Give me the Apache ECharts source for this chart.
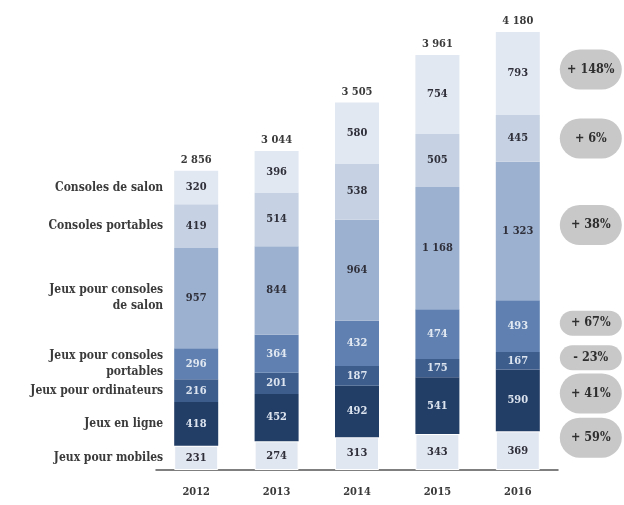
<!DOCTYPE html>
<html>
<head>
<meta charset="utf-8">
<script src="https://cdn.jsdelivr.net/npm/echarts@6/dist/echarts.min.js"></script>
<style>
  html, body { margin: 0; padding: 0; background: #ffffff; }
  #chart { width: 624px; height: 505px; }
</style>
</head>
<body>
<div id="chart"></div>
<script>
// Marché du jeu vidéo par segment (M€), 2012-2016
const categories = ['2012', '2013', '2014', '2015', '2016'];

// Segments, listed from the bottom of each stack to the top
const jeuxMobiles        = [231, 274, 313, 343, 369];
const jeuxEnLigne        = [418, 452, 492, 541, 590];
const jeuxOrdinateurs    = [216, 201, 187, 175, 167];
const jeuxConsolesPort   = [296, 364, 432, 474, 493];
const jeuxConsolesSalon  = [957, 844, 964, 1168, 1323];
const consolesPortables  = [419, 514, 538, 505, 445];
const consolesSalon      = [320, 396, 580, 754, 793];

const segmentNames = [
  'Jeux pour mobiles',
  'Jeux en ligne',
  'Jeux pour ordinateurs',
  'Jeux pour consoles\nportables',
  'Jeux pour consoles\nde salon',
  'Consoles portables',
  'Consoles de salon'
];

// Totals printed above the bars
const totalLabels = ['2 856', '3 044', '3 505', '3 961', '4 180'];

// Change 2012-2016 per segment (same order as segmentNames)
const changeLabels = ['+ 59%', '+ 41%', '- 23%', '+ 67%', '+ 38%', '+ 6%', '+ 148%'];

const segments = [jeuxMobiles, jeuxEnLigne, jeuxOrdinateurs, jeuxConsolesPort,
                  jeuxConsolesSalon, consolesPortables, consolesSalon];

const fills = ['#e1e7f0', '#223d66', '#3d5d8d', '#5f80b0', '#9cb1cf', '#c6d2e3', '#e2e8f1'];
const valueColors = ['#2f2f3a', '#dce4ef', '#dce4ef', '#e3e9f2', '#2f2f3a', '#2f2f3a', '#2f2f3a'];
// badge sizes and small vertical nudges
const badgeHeight = [40, 40, 25, 25, 40, 40, 40];
const badgeNudge  = [-13, -7, -3, -3, -6, 0, -4];

const FONT = "'DejaVu Serif Condensed', 'Liberation Serif', serif";
const TEXT = '#3a3a3a';

const totals = categories.map((_, i) => segments.reduce((s, arr) => s + arr[i], 0));
const yMax = Math.max(...totals);

function fmt(v) {
  return String(v).replace(/\B(?=(\d{3})+(?!\d))/g, ' ');
}

// midpoint (in axis units) of segment k for category i
function mid(k, i) {
  let base = 0;
  for (let j = 0; j < k; j++) base += segments[j][i];
  return base + segments[k][i] / 2;
}

const last = categories.length - 1;

const series = segments.map((arr, k) => ({
  name: segmentNames[k],
  type: 'bar',
  stack: 'total',
  barWidth: 44,
  data: arr,
  itemStyle: {
    color: fills[k],
    borderColor: k === 0 ? '#ffffff' : fills[k],
    borderWidth: k === 0 ? 1 : 0
  },
  label: {
    show: true,
    position: 'inside',
    formatter: p => fmt(p.value),
    fontFamily: FONT,
    fontWeight: 'bold',
    fontSize: 11,
    color: valueColors[k]
  },
  markPoint: {
    silent: true,
    symbol: 'circle',
    symbolSize: 0,
    animation: false,
    data: [
      {
        coord: [categories[0], mid(k, 0)],
        label: {
          show: true,
          formatter: segmentNames[k],
          position: 'left',
          distance: 33,
          align: 'right',
          fontFamily: FONT,
          fontWeight: 'bold',
          fontSize: 12,
          lineHeight: 16,
          color: TEXT
        }
      },
      {
        coord: [categories[last], mid(k, last)],
        label: {
          show: true,
          formatter: changeLabels[k],
          position: 'inside',
          offset: [73, badgeNudge[k]],
          align: 'center',
          verticalAlign: 'middle',
          width: 62,
          height: badgeHeight[k],
          lineHeight: badgeHeight[k],
          backgroundColor: '#c8c8c8',
          borderRadius: badgeHeight[k] / 2,
          fontFamily: FONT,
          fontWeight: 'bold',
          fontSize: 12.5,
          color: '#2e2e2e'
        }
      }
    ]
  }
}));

// zero-height cap carrying the total above each stack
series.push({
  name: 'Total',
  type: 'bar',
  stack: 'total',
  barWidth: 44,
  data: categories.map(() => 0),
  itemStyle: { color: 'transparent' },
  label: {
    show: true,
    position: 'top',
    distance: 5,
    formatter: p => totalLabels[p.dataIndex],
    fontFamily: FONT,
    fontWeight: 'bold',
    fontSize: 11,
    color: TEXT
  }
});

const chart = echarts.init(document.getElementById('chart'), null, { renderer: 'canvas' });
chart.setOption({
  animation: false,
  backgroundColor: '#ffffff',
  grid: { left: 156, right: 66, top: 32, bottom: 35 },
  xAxis: {
    type: 'category',
    data: categories,
    axisLine: { lineStyle: { color: '#555555', width: 1.5 } },
    axisTick: { show: false },
    axisLabel: {
      margin: 17,
      fontFamily: FONT,
      fontWeight: 'bold',
      fontSize: 11,
      color: TEXT
    }
  },
  yAxis: {
    type: 'value',
    min: 0,
    max: yMax,
    show: false,
    splitLine: { show: false }
  },
  series: series
});
</script>
</body>
</html>
